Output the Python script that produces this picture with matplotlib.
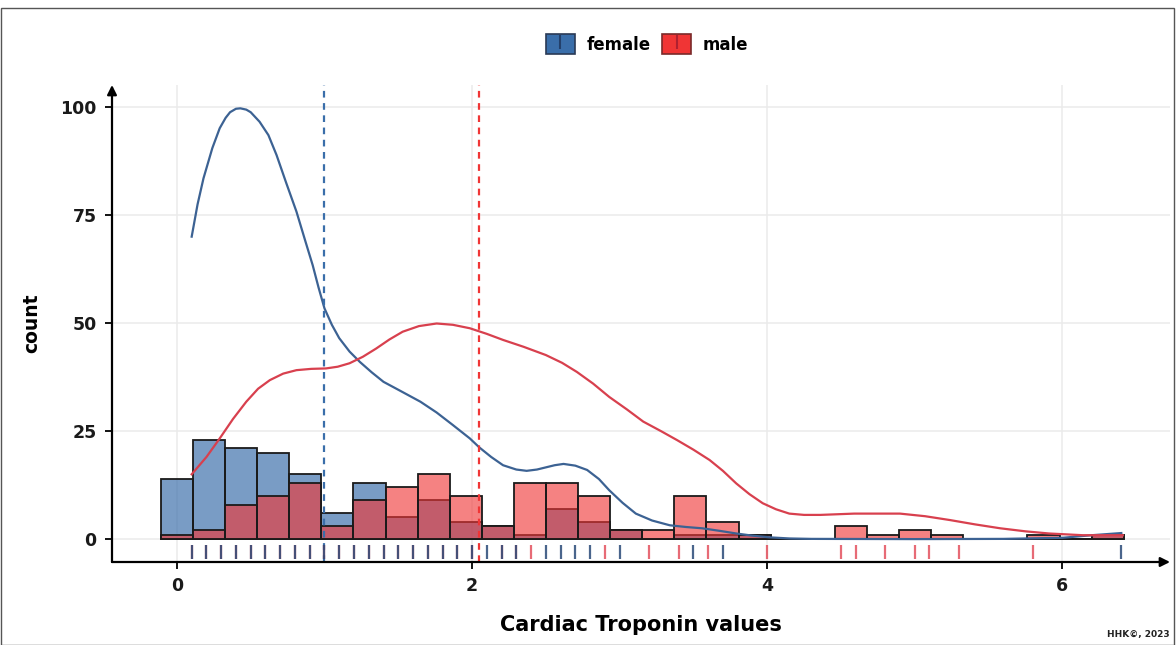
import numpy as np
import matplotlib
matplotlib.use("Agg")
import matplotlib.pyplot as plt
from matplotlib.patches import Patch, Rectangle
from matplotlib.lines import Line2D
from matplotlib.legend_handler import HandlerTuple
import matplotlib.transforms as mtransforms

# ---------------- data ----------------
groups = ["female", "male"]
bin_width = 0.2175
bin_centers = np.arange(30) * bin_width

female_counts = [14, 23, 21, 20, 15, 6, 13, 5, 9, 4, 3, 1, 7, 4, 2,
                 0, 1, 1, 1, 0, 0, 0, 0, 0, 0, 0, 0, 0, 0, 1]
male_counts = [1, 2, 8, 10, 13, 3, 9, 12, 15, 10, 3, 13, 13, 10, 2,
               2, 10, 4, 1, 0, 0, 3, 1, 2, 1, 0, 0, 1, 0, 1]

female_density_x = [0.10, 0.14, 0.18, 0.24, 0.29, 0.33, 0.36, 0.40, 0.43, 0.47, 0.50, 0.56,
                    0.62, 0.675, 0.74, 0.81, 0.87, 0.92, 0.96, 1.00, 1.05, 1.10, 1.17, 1.24,
                    1.32, 1.40, 1.52, 1.65, 1.76, 1.87, 1.985, 2.05, 2.13, 2.21, 2.30, 2.37,
                    2.44, 2.50, 2.56, 2.62, 2.70, 2.78, 2.86, 2.93, 3.02, 3.11, 3.22, 3.34,
                    3.45, 3.56, 3.68, 3.79, 3.90, 4.02, 4.15, 4.30, 5.00, 5.60, 6.00, 6.20,
                    6.40]
female_density_y = [70.0, 77.5, 83.5, 90.5, 95.1, 97.5, 98.8, 99.6, 99.7, 99.4, 98.8, 96.6,
                    93.5, 88.9, 82.5, 75.8, 69.0, 63.4, 58.2, 53.4, 49.6, 46.5, 43.4, 41.0,
                    38.6, 36.4, 34.2, 31.8, 29.3, 26.4, 23.3, 21.2, 19.0, 17.1, 16.1, 15.8,
                    16.1, 16.6, 17.1, 17.4, 17.0, 16.0, 13.9, 11.3, 8.4, 5.9, 4.3, 3.2,
                    2.8, 2.5, 1.9, 1.3, 0.8, 0.4, 0.15, 0.05, 0.0, 0.05, 0.3, 0.9,
                    1.4]

male_density_x = [0.10, 0.20, 0.29, 0.38, 0.47, 0.55, 0.63, 0.72, 0.81, 0.91, 1.01, 1.09,
                  1.17, 1.26, 1.35, 1.44, 1.53, 1.64, 1.76, 1.87, 1.985, 2.10, 2.21, 2.35,
                  2.50, 2.61, 2.71, 2.82, 2.93, 3.05, 3.16, 3.28, 3.39, 3.50, 3.61, 3.70,
                  3.79, 3.88, 3.97, 4.06, 4.15, 4.25, 4.36, 4.59, 4.90, 5.07, 5.24, 5.41,
                  5.58, 5.75, 5.91, 6.14, 6.41]
male_density_y = [15.0, 19.0, 23.3, 27.8, 31.8, 34.8, 36.8, 38.3, 39.1, 39.4, 39.5, 39.9,
                  40.7, 42.2, 44.1, 46.2, 48.0, 49.3, 49.9, 49.6, 48.8, 47.5, 46.1, 44.5,
                  42.6, 40.8, 38.7, 36.0, 32.9, 30.0, 27.2, 25.0, 22.9, 20.7, 18.3, 15.8,
                  12.9, 10.4, 8.3, 6.9, 5.9, 5.6, 5.6, 5.9, 5.9, 5.3, 4.4, 3.4,
                  2.5, 1.8, 1.3, 0.9, 0.9]

female_rug = [0.1, 0.2, 0.3, 0.4, 0.5, 0.6, 0.7, 0.8, 0.9, 1.0, 1.1, 1.2, 1.3, 1.4, 1.5,
              1.6, 1.7, 1.8, 1.9, 2.0, 2.1, 2.2, 2.3, 2.5, 2.6, 2.7, 2.8, 3.0, 3.5, 3.7, 6.4]
male_rug = [0.1, 0.2, 0.3, 0.4, 0.5, 0.6, 0.7, 0.8, 0.9, 1.0, 1.1, 1.2, 1.3, 1.4, 1.5,
            1.6, 1.7, 1.8, 1.9, 2.0, 2.2, 2.3, 2.4, 2.9, 3.2, 3.4, 3.6, 4.0, 4.5, 4.6, 4.8,
            5.0, 5.1, 5.3, 5.8]

group_means = [1.0, 2.05]

x_ticks = [0, 2, 4, 6]
y_ticks = [0, 25, 50, 75, 100]
x_label = "Cardiac Troponin values"
y_label = "count"
caption = "HHK\u00a9, 2023"

# ---------------- style ----------------
blue = "#3A6EAA"
red = "#F03535"
blue_line = "#3C6293"
red_line = "#D8404E"

plt.rcParams['font.family'] = ['DejaVu Sans']

fig = plt.figure(figsize=(11.76, 6.45), dpi=100)
fig.patch.set_facecolor("white")
ax = fig.add_axes([112/1176, 1-562/645, (1170-112)/1176, (562-85)/645])
ax.set_xlim(-0.44, 6.73)
ax.set_ylim(-5.3, 105.1)

for s in ax.spines.values():
    s.set_visible(False)

ax.set_axisbelow(True)
ax.grid(True, color="#EBEBEB", linewidth=1.1)

# histograms
ax.bar(bin_centers, female_counts, width=bin_width, color=blue, alpha=0.68,
       edgecolor="none", zorder=2)
ax.bar(bin_centers, female_counts, width=bin_width, facecolor="none",
       edgecolor="#1a1a1a", linewidth=1.3, zorder=2.1)
ax.bar(bin_centers, male_counts, width=bin_width, color=red, alpha=0.62,
       edgecolor="none", zorder=3)
ax.bar(bin_centers, male_counts, width=bin_width, facecolor="none",
       edgecolor="#1a1a1a", linewidth=1.3, zorder=3.1)

# density curves
ax.plot(female_density_x, female_density_y, color=blue_line, lw=1.6, zorder=4,
        solid_joinstyle='round')
ax.plot(male_density_x, male_density_y, color=red_line, lw=1.6, zorder=4,
        solid_joinstyle='round')

# mean lines
ax.axvline(group_means[0], color=blue, lw=1.6, ls=(0, (3, 2.5)), zorder=5)
ax.axvline(group_means[1], color=red, lw=1.6, ls=(0, (3, 2.5)), zorder=5)

# rugs
trans = mtransforms.blended_transform_factory(ax.transData, ax.transAxes)
ax.vlines(male_rug, 0.007, 0.036, transform=trans, color="#E03A48", alpha=0.75,
          lw=1.6, zorder=5)
ax.vlines(female_rug, 0.007, 0.036, transform=trans, color="#2A4A78", alpha=0.85,
          lw=1.6, zorder=5)

# axis arrows
ax.annotate('', xy=(0, 1.0), xytext=(0, 0), xycoords='axes fraction',
            arrowprops=dict(arrowstyle='-|>', color='black', lw=1.6,
                            mutation_scale=14, shrinkA=0, shrinkB=0), zorder=6)
ax.annotate('', xy=(1.0, 0), xytext=(0, 0), xycoords='axes fraction',
            arrowprops=dict(arrowstyle='-|>', color='black', lw=1.6,
                            mutation_scale=14, shrinkA=0, shrinkB=0), zorder=6)

ax.set_xticks(x_ticks)
ax.set_yticks(y_ticks)
ax.tick_params(axis='both', direction='out', length=5, width=1.3, color='black',
               labelsize=12.5, labelcolor='#1a1a1a', pad=6)
for lab in ax.get_xticklabels() + ax.get_yticklabels():
    lab.set_fontweight('bold')

ax.set_xlabel(x_label, fontsize=15, fontweight='bold', labelpad=14)
ax.set_ylabel(y_label, fontsize=13.5, fontweight='bold', labelpad=14)

# legend
h_f = (Patch(facecolor=blue, edgecolor="#2a3a55", linewidth=1.2),
       Line2D([], [], marker='|', color="#23406b", linestyle='None', markersize=10, mew=1.5))
h_m = (Patch(facecolor=red, edgecolor="#7a2a2a", linewidth=1.2),
       Line2D([], [], marker='|', color="#b02030", linestyle='None', markersize=10, mew=1.5))
fig.legend([h_f, h_m], groups, loc='center', bbox_to_anchor=(647/1176, 1-44/645),
           ncol=2, frameon=False, handler_map={tuple: HandlerTuple(ndivide=1, pad=0)},
           prop=dict(size=12, weight='bold'), handlelength=1.75, handleheight=1.5,
           handletextpad=0.7, columnspacing=0.7)

fig.text(1170/1176, 1-634/645, caption, ha='right', va='center', fontsize=6.5,
         fontweight='bold', color='#222222')

# outer frame
fig.patches.append(Rectangle((0.0005, 0.0), 0.998, 1-8/645, transform=fig.transFigure,
                             fill=False, edgecolor="#555555", linewidth=1.0))

fig.savefig("out.png", dpi=100)
